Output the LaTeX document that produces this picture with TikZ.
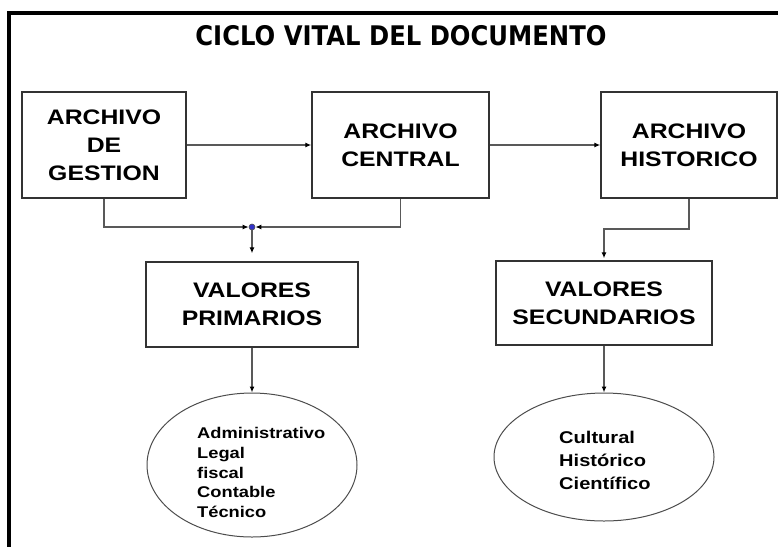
\documentclass[tikz,border=0pt]{standalone}
\usepackage{fontspec}
\usetikzlibrary{arrows.meta,shapes.geometric}
\newfontfamily\boxfont{Liberation Sans}[FakeStretch=1.18]
\newfontfamily\titlefont{DejaVu Sans}[FakeStretch=0.9]
\begin{document}
\begin{tikzpicture}[x=1pt,y=-1pt,
  box/.style={draw=black!80, line width=1.4pt, fill=white, inner sep=0pt, align=center,
    font=\boxfont\bfseries\fontsize{21}{28}\selectfont},
  conn/.style={draw=black!65, line width=1.2pt},
  arr/.style={conn, -{Latex[length=6pt,width=5pt,color=black]}},
  ell/.style={ellipse, draw=black!70, line width=1pt, inner sep=0pt},
  elltext/.style={anchor=west, align=left, inner sep=0pt}
]
\useasboundingbox (0,0) rectangle (778,547);
% frame
\draw[line width=4pt] (778,13) -- (9,13) -- (9,547);
% title
\node (t) at (401,36) {\titlefont\bfseries\fontsize{27}{30}\selectfont CICLO VITAL DEL DOCUMENTO};
% boxes
\node[box, minimum width=164pt, minimum height=106pt] (g) at (104,145) {ARCHIVO\\DE\\GESTION};
\node[box, minimum width=177pt, minimum height=106pt] (c) at (400.5,145) {ARCHIVO\\CENTRAL};
\node[box, minimum width=176pt, minimum height=106pt] (h) at (689,145) {ARCHIVO\\HISTORICO};
\node[box, minimum width=212pt, minimum height=85pt] (vp) at (252,304.5) {VALORES\\PRIMARIOS};
\node[box, minimum width=216pt, minimum height=84pt] (vs) at (604,303) {VALORES\\SECUNDARIOS};
% junction dot
\node[circle, fill={rgb,255:red,50;green,50;blue,200}, draw=black!70, line width=0.6pt, inner sep=0pt, minimum size=6pt] (j) at (252,227) {};
\coordinate (hk) at (689,229);
% ellipses
\node[ell, minimum width=210pt, minimum height=144pt] (e1) at (252,465) {};
\node[elltext, font=\boxfont\bfseries\fontsize{15.5}{19.6}\selectfont] (e1t) at (197,472.5) {Administrativo\\Legal\\fiscal\\Contable\\Técnico};
\node[ell, minimum width=220pt, minimum height=128pt] (e2) at (604,457) {};
\node[elltext, font=\boxfont\bfseries\fontsize{17}{23}\selectfont] (e2t) at (559,460) {Cultural\\Histórico\\Científico};
% connectors
\draw[arr] (g.east) -- (c.west);
\draw[arr] (c.east) -- (h.west);
\draw[arr] (g.south) |- (j.west);
\draw[arr] (c.south) |- (j.east);
\draw[arr, shorten >=8pt] (j.south) -- (vp.north);
\draw[arr, shorten >=2pt] (h.south) -- (hk) -| (vs.north);
\draw[arr] (vp.south) -- (e1.north);
\draw[arr] (vs.south) -- (e2.north);
\end{tikzpicture}
\end{document}
